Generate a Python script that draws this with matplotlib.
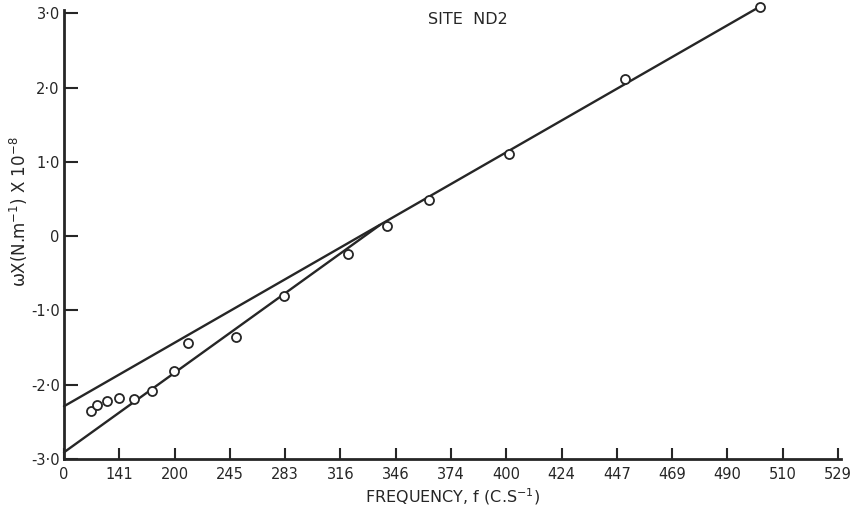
import matplotlib
matplotlib.use("Agg")
import matplotlib.pyplot as plt
import numpy as np

# x values are f^2 (axis is linear in f^2, labelled with f)
f2_values = [9660, 12040, 15440, 19890, 25430, 31720, 39900, 44740,
             62100, 79580, 102830, 116900, 132000, 160950, 202900, 251750]
omega_x = [-2.35, -2.27, -2.22, -2.18, -2.19, -2.09, -1.81, -1.44,
           -1.36, -0.80, -0.24, 0.13, 0.48, 1.11, 2.12, 3.09]

upper_line_x = [0, 251750]
upper_line_y = [-2.29, 3.09]
lower_line_x = [0, 114300]
lower_line_y = [-2.91, 0.15]

x_tick_f2 = [0, 20000, 40000, 60000, 80000, 100000, 120000, 140000,
             160000, 180000, 200000, 220000, 240000, 260000, 280000]
x_tick_labels = ["0", "141", "200", "245", "283", "316", "346", "374",
                 "400", "424", "447", "469", "490", "510", "529"]
y_ticks = [-3, -2, -1, 0, 1, 2, 3]
y_tick_labels = ["-3·0", "-2·0", "-1·0", "0", "1·0", "2·0", "3·0"]

plt.rcParams['font.family'] = ['DejaVu Sans']
fig = plt.figure(figsize=(8.57, 5.13), dpi=100)
W, H = 857, 513
left, right, top, bottom = 64, 841, 10, 459
ax = fig.add_axes([left / W, (H - bottom) / H, (right - left) / W, (bottom - top) / H])

ink = "#262626"
ax.plot(upper_line_x, upper_line_y, color=ink, lw=1.7, solid_capstyle='round', clip_on=False)
ax.plot(lower_line_x, lower_line_y, color=ink, lw=1.7, solid_capstyle='round', clip_on=False)
ax.plot(f2_values, omega_x, linestyle='none', marker='o', markersize=6.5,
        markerfacecolor='white', markeredgecolor=ink, markeredgewidth=1.3,
        clip_on=False, zorder=3)

ax.set_xlim(0, 280000 * (right - left) / (838 - left))
ax.set_ylim(-3, 3 + (13.3 - top) / 74.3)

for s in ['top', 'right']:
    ax.spines[s].set_visible(False)
for s in ['left', 'bottom']:
    ax.spines[s].set_linewidth(2.0)
    ax.spines[s].set_color(ink)

ax.set_xticks(x_tick_f2)
ax.set_xticklabels(x_tick_labels, fontsize=10.5, color=ink)
ax.set_yticks(y_ticks)
ax.set_yticklabels(y_tick_labels, fontsize=10.5, color=ink)
ax.tick_params(axis='both', direction='in', width=1.5, colors=ink)
ax.tick_params(axis='x', length=8, pad=6)
ax.tick_params(axis='y', length=10, pad=3)

ax.set_xlabel("FREQUENCY, f (C.S$^{-1}$)", fontsize=11.5, color=ink, labelpad=3)
fig.text(19 / W, 1 - 212 / H, r"ωX(N.m$^{-1}$) X 10$^{-8}$", rotation=90,
         fontsize=12, color=ink, ha='center', va='center')
fig.text(468 / W, 1 - 20 / H, "SITE  ND2", fontsize=11.5, color=ink,
         ha='center', va='center')

fig.savefig("out.png", dpi=100)
